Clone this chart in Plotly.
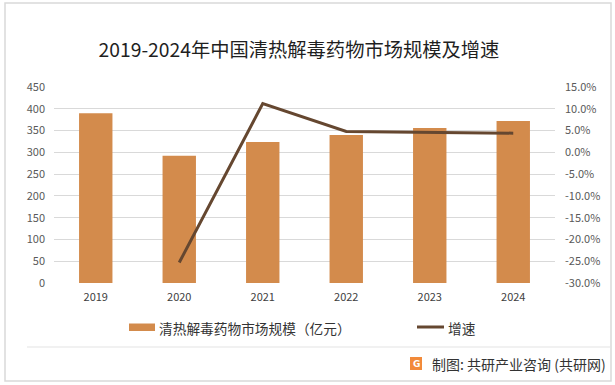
import plotly.graph_objects as go

years = ["2019", "2020", "2021", "2022", "2023", "2024"]
market_size = [390, 292, 324, 340, 356, 372]          # 亿元
growth_years = ["2020", "2021", "2022", "2023", "2024"]
growth_pct = [-25.3, 11.2, 4.8, 4.6, 4.4]              # %

left_ticks = list(range(0, 451, 50))
right_ticks = list(range(-30, 16, 5))
right_ticklabels = [f"{v:.1f}%" for v in right_ticks]

title_text = "2019-2024年中国清热解毒药物市场规模及增速"
bar_name = "清热解毒药物市场规模（亿元）"
line_name = "增速"
source_text = "制图: 共研产业咨询 (共研网)"

BAR_COLOR = "#D38B4C"
LINE_COLOR = "#654730"
FONT = "Noto Sans CJK SC"

W, H = 615, 385
L, R, T, B = 54, 60, 87, 102
PW, PH = W - L - R, H - T - B


def px(x):
    return (x - L) / PW


def py(y):
    return (H - B - y) / PH


fig = go.Figure()
fig.add_trace(go.Bar(x=years, y=market_size, name=bar_name, marker_color=BAR_COLOR,
                     marker_line_width=0, yaxis="y", showlegend=False))
fig.add_trace(go.Scatter(x=growth_years, y=growth_pct, name=line_name, mode="lines",
                         line=dict(color=LINE_COLOR, width=3), yaxis="y2", showlegend=False))

tickfont = dict(family=FONT, size=11, color="#595959")

fig.update_layout(
    width=W, height=H,
    margin=dict(l=L, r=R, t=T, b=B),
    paper_bgcolor="white", plot_bgcolor="white",
    bargap=0.6,
    font=dict(family=FONT),
    xaxis=dict(type="category", showgrid=False, showline=False, zeroline=False,
               tickfont=dict(family=FONT, size=11, color="#404040"), ticks="", ticklabelstandoff=6),
    yaxis=dict(range=[0, 450], tickvals=left_ticks, showgrid=True, gridcolor="#D9D9D9", gridwidth=1,
               zeroline=False, showline=False, tickfont=tickfont, ticks="", ticklabelstandoff=8),
    yaxis2=dict(range=[-30, 15], tickvals=right_ticks, ticktext=right_ticklabels, overlaying="y",
                side="right", showgrid=False, zeroline=False, showline=False, tickfont=tickfont,
                ticks="", ticklabelstandoff=9),
    title=dict(text=title_text, x=px(299), xref="paper", y=1 - 50 / H, yref="container",
               xanchor="center", yanchor="middle",
               font=dict(family=FONT, size=19.3, color="#1F1F1F")),
)

shapes = [
    # outer frame
    dict(type="rect", xref="paper", yref="paper", x0=px(5), x1=px(611), y0=py(381), y1=py(3),
         line=dict(color="#D9D9D9", width=1.5), fillcolor="rgba(0,0,0,0)", layer="below"),
    # separator above footer
    dict(type="line", xref="paper", yref="paper", x0=px(27), x1=px(611), y0=py(347), y1=py(347),
         line=dict(color="#E3E3E3", width=1)),
    # legend swatches
    dict(type="rect", xref="paper", yref="paper", x0=px(129), x1=px(155), y0=py(331), y1=py(323.5),
         fillcolor=BAR_COLOR, line=dict(width=0)),
    dict(type="line", xref="paper", yref="paper", x0=px(417), x1=px(444), y0=py(327), y1=py(327),
         line=dict(color=LINE_COLOR, width=3)),
    # logo
    dict(type="rect", xref="paper", yref="paper", x0=px(410), x1=px(422), y0=py(370), y1=py(357),
         fillcolor="#F28A3A", line=dict(width=0)),
]

annotations = [
    dict(text=bar_name, xref="paper", yref="paper", x=px(157), y=py(327.5), xanchor="left",
         yanchor="middle", showarrow=False, font=dict(family=FONT, size=13.7, color="#333333")),
    dict(text=line_name, xref="paper", yref="paper", x=px(446), y=py(327.5), xanchor="left",
         yanchor="middle", showarrow=False, font=dict(family=FONT, size=13.7, color="#333333")),
    dict(text=source_text, xref="paper", yref="paper", x=px(430), y=py(363.5), xanchor="left",
         yanchor="middle", showarrow=False, font=dict(family=FONT, size=14, color="#333333")),
    dict(text="<b>G</b>", xref="paper", yref="paper", x=px(416), y=py(363.5), xanchor="center",
         yanchor="middle", showarrow=False, font=dict(family="DejaVu Sans", size=9, color="white")),
]

fig.update_layout(shapes=shapes, annotations=annotations)
fig.write_html("out.html", config={"displayModeBar": False},
               post_script="document.body.style.margin='0';document.body.style.overflow='hidden';")
